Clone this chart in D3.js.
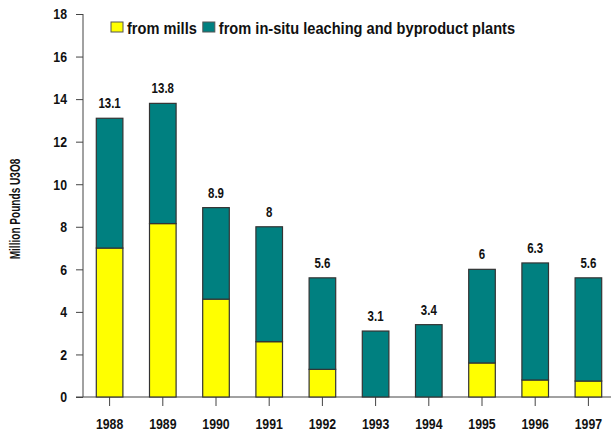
<!DOCTYPE html>
<html>
<head>
<meta charset="utf-8">
<script src="https://cdn.jsdelivr.net/npm/d3@7"></script>
<style>
  body { margin: 0; background: #fff; }
  text { font-family: "Liberation Sans", Arial, sans-serif; font-weight: bold; fill: #111; }
</style>
</head>
<body>
<div id="chart"></div>
<script>
// data
var years = ['1988', '1989', '1990', '1991', '1992', '1993', '1994', '1995', '1996', '1997'];
var totals = [13.1, 13.8, 8.9, 8, 5.6, 3.1, 3.4, 6, 6.3, 5.6];
var mills = [7.0, 8.15, 4.6, 2.6, 1.3, 0, 0, 1.6, 0.8, 0.75];
var yTicks = [0, 2, 4, 6, 8, 10, 12, 14, 16, 18];
var seriesNames = ['from mills', 'from in-situ leaching and byproduct plants'];
var colors = ['#ffff00', '#008080'];

var W = 611, H = 436;
var NARROW = 0.82; // the original type is a condensed bold face

// squeeze text horizontally around its own anchor point
function squeeze(sel, s) {
  sel.each(function() {
    var t = d3.select(this);
    var x = +t.attr('x') || 0, y = +t.attr('y') || 0;
    var tr = t.attr('transform') || '';
    t.attr('transform', tr + ' translate(' + x + ',' + y + ') scale(' + s + ',1) translate(' + (-x) + ',' + (-y) + ')');
  });
}

var svg = d3.select('#chart')
  .append('svg')
  .attr('width', W)
  .attr('height', H);

var x = d3.scaleBand()
  .domain(years)
  .range([83, 615])
  .paddingInner(0.5)
  .paddingOuter(0.25);

var y = d3.scaleLinear()
  .domain([0, 18])
  .range([397, 14]);

// stacked rows
var rows = years.map(function(yr, i) {
  return { year: yr, mills: mills[i], insitu: totals[i] - mills[i], total: totals[i] };
});
var stack = d3.stack().keys(['mills', 'insitu'])(rows);

// y axis
var yAxis = svg.append('g')
  .attr('transform', 'translate(83,0)')
  .call(d3.axisLeft(y).tickValues(yTicks).tickSize(7).tickPadding(9).tickFormat(d3.format('d')));
yAxis.select('.domain').attr('stroke', '#444').attr('d', 'M0,' + y(18) + 'V' + y(0));
yAxis.selectAll('.tick line').attr('stroke', '#444');
yAxis.selectAll('.tick text').style('font-size', '15px').attr('fill', '#111');
squeeze(yAxis.selectAll('.tick text'), NARROW);

// x axis
var xAxis = svg.append('g')
  .attr('transform', 'translate(0,397)')
  .call(d3.axisBottom(x).tickSize(9).tickPadding(12));
xAxis.select('.domain').attr('stroke', '#444').attr('d', 'M76,0H615');
xAxis.selectAll('.tick line').attr('stroke', '#444');
xAxis.selectAll('.tick text').style('font-size', '15px').attr('fill', '#111');
squeeze(xAxis.selectAll('.tick text'), NARROW);

// bars
svg.selectAll('.layer')
  .data(stack)
  .enter()
  .append('g')
  .attr('class', 'layer')
  .attr('fill', function(d, i) { return colors[i]; })
  .selectAll('rect')
  .data(function(d) { return d.filter(function(s) { return s[1] - s[0] > 0; }); })
  .enter()
  .append('rect')
  .attr('x', function(d) { return x(d.data.year); })
  .attr('width', x.bandwidth())
  .attr('y', function(d) { return y(d[1]); })
  .attr('height', function(d) { return y(d[0]) - y(d[1]); })
  .attr('stroke', '#333')
  .attr('stroke-width', 1.2);

// totals above bars
var totalLabels = svg.selectAll('.total')
  .data(rows)
  .enter()
  .append('text')
  .attr('class', 'total')
  .attr('x', function(d) { return x(d.year) + x.bandwidth() / 2; })
  .attr('y', function(d) { return y(d.total) - 10; })
  .attr('text-anchor', 'middle')
  .style('font-size', '14px')
  .text(function(d) { return d.total; });
squeeze(totalLabels, NARROW);

// y title
var title = svg.append('text')
  .attr('transform', 'translate(20,209) rotate(-90)')
  .attr('text-anchor', 'middle')
  .style('font-size', '14px')
  .text('Million Pounds U3O8');
squeeze(title, 0.72);

// legend
var legend = svg.append('g').attr('transform', 'translate(111,22)');
var lx = 0;
seriesNames.forEach(function(name, i) {
  legend.append('rect')
    .attr('x', lx).attr('y', 0)
    .attr('width', 12).attr('height', 10)
    .attr('fill', colors[i])
    .attr('stroke', '#555');
  var t = legend.append('text')
    .attr('x', lx + 16).attr('y', 12)
    .style('font-size', '17px')
    .text(name);
  squeeze(t, 0.86);
  lx += 16 + t.node().getComputedTextLength() * 0.86 + 6;
});
</script>
</body>
</html>
